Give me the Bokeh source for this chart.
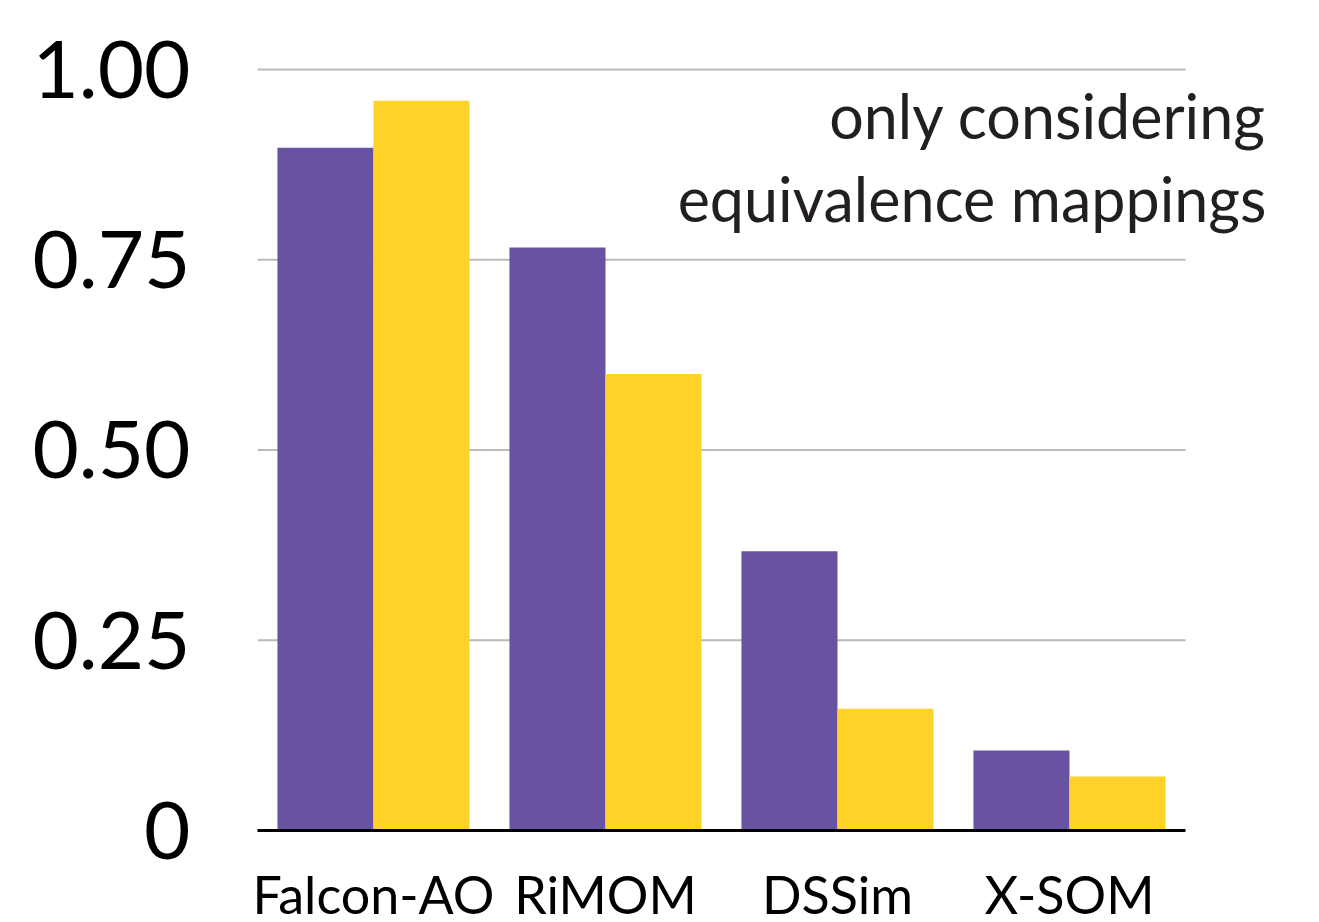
from bokeh.plotting import figure
from bokeh.models import Range1d, FixedTicker, Label, ColumnDataSource
from bokeh.embed import file_html
from bokeh.resources import INLINE

categories = ["Falcon-AO", "RiMOM", "DSSim", "X-SOM"]
series_a = [0.897, 0.766, 0.367, 0.105]   # purple
series_b = [0.959, 0.600, 0.160, 0.071]   # yellow
y_ticks = [0, 0.25, 0.5, 0.75, 1.0]
y_tick_labels = ["0", "0.25", "0.50", "0.75", "1.00"]
note_lines = ["only considering", "equivalence mappings"]

FONT = "Lato"
PURPLE = "#6852A2"
YELLOW = "#FED228"
GRID = "#B9B9C1"

n = len(categories)
centers = [i + 0.5 for i in range(n)]
bw = 0.414

src = ColumnDataSource(dict(
    xa=[c - bw / 2 for c in centers],
    xb=[c + bw / 2 for c in centers],
    a=series_a, b=series_b))

p = figure(x_range=Range1d(0, 1024 / 232), y_range=Range1d(0, 1.0118),
           frame_width=1024, frame_height=770,
           min_border_left=257, min_border_right=22,
           min_border_top=60, min_border_bottom=84,
           output_backend="svg", toolbar_location=None,
           outline_line_color=None)

p.xgrid.grid_line_color = None
p.ygrid.grid_line_color = None

# horizontal grid lines spanning only the category area
gy = y_ticks[1:]
p.segment(x0=[0] * len(gy), x1=[n] * len(gy), y0=gy, y1=gy,
          line_color=GRID, line_width=2, level="underlay")

p.vbar(x="xa", top="a", width=bw, source=src, fill_color=PURPLE, line_color=None)
p.vbar(x="xb", top="b", width=bw, source=src, fill_color=YELLOW, line_color=None)

p.yaxis.ticker = FixedTicker(ticks=y_ticks)
p.yaxis.major_label_overrides = {t: l for t, l in zip(y_ticks, y_tick_labels)}
p.yaxis.axis_line_color = None
p.yaxis.major_tick_line_color = None
p.yaxis.minor_tick_line_color = None
p.yaxis.major_label_text_font = FONT
p.yaxis.major_label_text_font_size = "80px"
p.yaxis.major_label_text_color = "black"
p.yaxis.major_label_standoff = 61

p.xaxis.ticker = FixedTicker(ticks=centers)
p.xaxis.major_label_overrides = {c: name for c, name in zip(centers, categories)}
p.xaxis.bounds = (0, n)
p.xaxis.axis_line_color = "black"
p.xaxis.axis_line_width = 3
p.xaxis.major_tick_line_color = None
p.xaxis.minor_tick_line_color = None
p.xaxis.major_label_text_font = FONT
p.xaxis.major_label_text_font_size = "52px"
p.xaxis.major_label_text_color = "black"
p.xaxis.major_label_standoff = 26

for txt, yv in zip(note_lines, [0.939, 0.831]):
    p.add_layout(Label(x=(1266 - 257) / 232, y=yv, text=txt, text_align="right",
                       text_baseline="alphabetic", text_font=FONT,
                       text_font_size="61px", text_color="#231F20"))

open("out.html", "w").write(file_html(p, INLINE))
